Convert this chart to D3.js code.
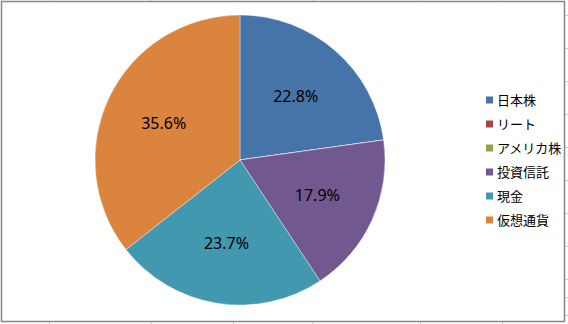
<!DOCTYPE html>
<html>
<head>
<meta charset="utf-8" />
<style>
    body {
        margin: 0;
        background: #fff;
    }

    .label {
        font: 16px "Noto Sans", sans-serif;
        fill: #000;
    }

    .legend text {
        font: 13px "Noto Sans CJK JP", sans-serif;
        fill: #000;
    }
</style>
</head>
<body>
<svg width="568" height="324"></svg>
<script src="https://d3js.org/d3.v7.min.js"></script>
<script>
    // chart data
    var categories = ["日本株", "リート", "アメリカ株", "投資信託", "現金", "仮想通貨"];
    var shares = [22.8, 0, 0, 17.9, 23.7, 35.6];
    var colors = ["#4674A8", "#AA4643", "#89A54E", "#71588F", "#4298AF", "#DB843D"];

    // spreadsheet cell lines peeking out round the chart frame
    var sheetCols = [49, 151, 233, 312, 420, 502];
    var sheetRows = [15, 48, 81, 114, 147, 180, 213, 246, 279, 297, 315];

    var svg = d3.select("svg"),
        W = +svg.attr("width"),
        H = +svg.attr("height");

    var frame = { left: 1.5, top: 1.5, right: 564.5, bottom: 321.5 };

    // grid stubs
    svg.selectAll(".col")
        .data(sheetCols)
        .enter().append("g")
        .each(function (x) {
            d3.select(this).append("line")
                .attr("x1", x + 0.5).attr("x2", x + 0.5)
                .attr("y1", 0).attr("y2", frame.top);
            d3.select(this).append("line")
                .attr("x1", x + 0.5).attr("x2", x + 0.5)
                .attr("y1", frame.bottom).attr("y2", H);
        })
        .attr("stroke", "#d0d0d0");

    svg.selectAll(".row")
        .data(sheetRows)
        .enter().append("line")
        .attr("x1", frame.right)
        .attr("x2", W)
        .attr("y1", d => d + 0.5)
        .attr("y2", d => d + 0.5)
        .attr("stroke", "#d0d0d0");

    // chart frame
    svg.append("rect")
        .attr("x", frame.left)
        .attr("y", frame.top)
        .attr("width", frame.right - frame.left)
        .attr("height", frame.bottom - frame.top)
        .attr("fill", "#fff")
        .attr("stroke", "#868686")
        .attr("stroke-width", 1.5);

    var cx = 240, cy = 160, radius = 145;

    var color = d3.scaleOrdinal().domain(categories).range(colors);

    var pie = d3.pie()
        .sort(null)
        .value(d => d.value);

    var data = categories.map((c, i) => ({ name: c, value: shares[i] }));

    var arc = d3.arc().innerRadius(0).outerRadius(radius);
    var labelArc = d3.arc().innerRadius(radius * 0.585).outerRadius(radius * 0.585);

    var g = svg.append("g")
        .attr("transform", "translate(" + cx + "," + cy + ")");

    var slices = pie(data);

    g.selectAll("path")
        .data(slices)
        .enter().append("path")
        .attr("d", arc)
        .attr("fill", d => color(d.data.name))
        .attr("stroke", "#fff")
        .attr("stroke-opacity", 0.6)
        .attr("stroke-width", 0.6);

    g.selectAll(".label")
        .data(slices.filter(d => d.data.value > 0))
        .enter().append("text")
        .attr("class", "label")
        .attr("transform", d => "translate(" + labelArc.centroid(d) + ")")
        .attr("text-anchor", "middle")
        .attr("dy", "0.35em")
        .text(d => d.data.value.toFixed(1) + "%");

    // legend
    var ly = d3.scalePoint()
        .domain(categories)
        .range([100, 220]);

    var legend = svg.append("g")
        .attr("class", "legend")
        .selectAll("g")
        .data(categories)
        .enter().append("g")
        .attr("transform", d => "translate(486," + ly(d) + ")");

    legend.append("rect")
        .attr("x", 0)
        .attr("y", -3.5)
        .attr("width", 7)
        .attr("height", 7)
        .attr("fill", d => color(d));

    legend.append("text")
        .attr("x", 11)
        .attr("dy", "0.36em")
        .text(d => d);
</script>
</body>
</html>
